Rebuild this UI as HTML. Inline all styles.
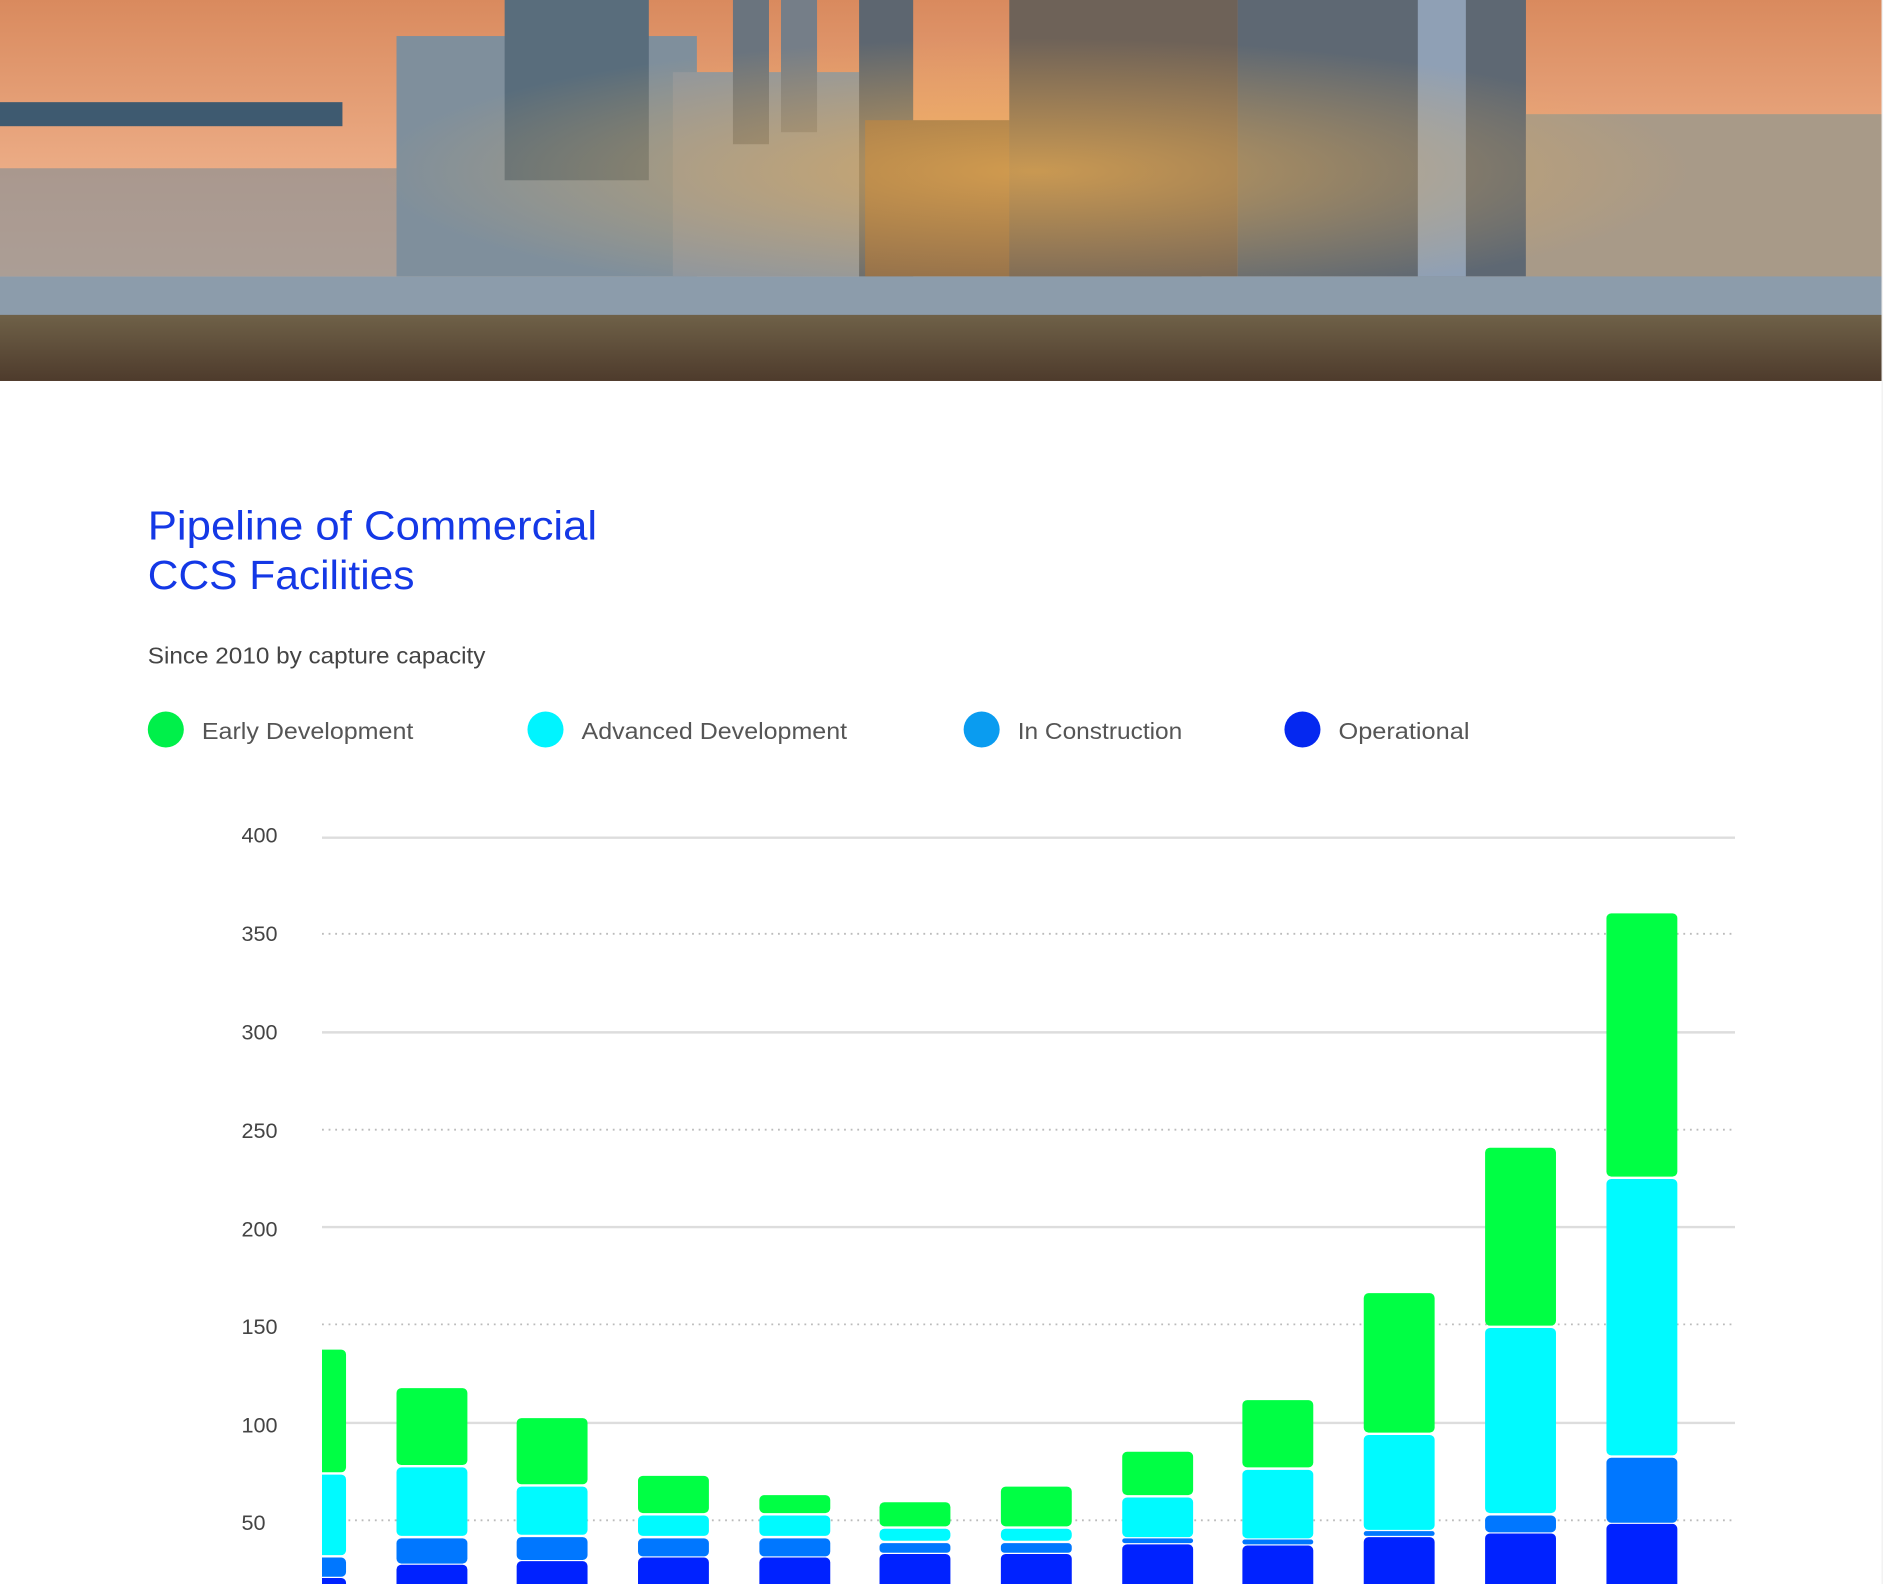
<!DOCTYPE html>
<html><head><meta charset="utf-8"><style>
html,body{margin:0;padding:0;background:#fff;}
svg{display:block;}
text{font-family:"Liberation Sans",sans-serif;}
</style></head><body>
<svg width="1884" height="1584" viewBox="0 0 1568 1318" preserveAspectRatio="none" xmlns="http://www.w3.org/2000/svg">
<defs>
<linearGradient id="sky" x1="0" y1="0" x2="0" y2="1">
<stop offset="0" stop-color="#d98a5e"/><stop offset="0.5" stop-color="#eeb08a"/><stop offset="1" stop-color="#f3c9a8"/></linearGradient>
<linearGradient id="grass" x1="0" y1="0" x2="0" y2="1">
<stop offset="0" stop-color="#6f6148"/><stop offset="1" stop-color="#4e3b2c"/></linearGradient>
<radialGradient id="glow" cx="0.55" cy="0.45" r="0.35"><stop offset="0" stop-color="#f0b050" stop-opacity="0.7"/><stop offset="1" stop-color="#f0b050" stop-opacity="0"/></radialGradient>
</defs>
<rect width="1568" height="1318" fill="#fff"/>
<rect x="0" y="0" width="1566" height="317" fill="url(#sky)"/>
<rect x="0" y="85" width="285" height="20" fill="#3e5a70"/>
<rect x="0" y="140" width="330" height="90" fill="#7d8a95" opacity="0.6"/>
<rect x="330" y="30" width="250" height="200" fill="#7f8f9c"/>
<rect x="420" y="0" width="120" height="150" fill="#596d7c"/>
<rect x="560" y="60" width="160" height="170" fill="#8d96a0"/>
<rect x="610" y="0" width="30" height="120" fill="#6a747e"/>
<rect x="650" y="0" width="30" height="110" fill="#757e88"/>
<rect x="715" y="0" width="45" height="230" fill="#5d6670"/>
<rect x="720" y="100" width="280" height="130" fill="#8a6a4a"/>
<rect x="840" y="0" width="190" height="230" fill="#6e6258"/>
<rect x="1030" y="0" width="240" height="230" fill="#5e6873"/>
<rect x="1180" y="0" width="40" height="230" fill="#8fa0b5"/>
<rect x="1270" y="95" width="296" height="140" fill="#a89a88"/>
<rect x="0" y="0" width="1566" height="317" fill="url(#glow)"/>
<rect x="0" y="230" width="1566" height="38" fill="#8c9cab"/>
<rect x="0" y="262" width="1566" height="55" fill="url(#grass)"/>
<text x="123" y="449" font-size="34" fill="#1438e6" textLength="374" lengthAdjust="spacingAndGlyphs">Pipeline of Commercial</text>
<text x="123" y="490" font-size="34" fill="#1438e6" textLength="222" lengthAdjust="spacingAndGlyphs">CCS Facilities</text>
<text x="123" y="552" font-size="19" fill="#444" textLength="281" lengthAdjust="spacingAndGlyphs">Since 2010 by capture capacity</text>
<circle cx="138" cy="607" r="15" fill="#00f04a"/><text x="168" y="615" font-size="19" fill="#555" textLength="176" lengthAdjust="spacingAndGlyphs">Early Development</text>
<circle cx="454" cy="607" r="15" fill="#00f4ff"/><text x="484" y="615" font-size="19" fill="#555" textLength="221" lengthAdjust="spacingAndGlyphs">Advanced Development</text>
<circle cx="817" cy="607" r="15" fill="#0a9cf0"/><text x="847" y="615" font-size="19" fill="#555" textLength="137" lengthAdjust="spacingAndGlyphs">In Construction</text>
<circle cx="1084" cy="607" r="15" fill="#0528f0"/><text x="1114" y="615" font-size="19" fill="#555" textLength="109" lengthAdjust="spacingAndGlyphs">Operational</text>
<g font-size="18" fill="#444">
<text x="201" y="701">400</text><text x="201" y="783">350</text><text x="201" y="865">300</text><text x="201" y="947">250</text>
<text x="201" y="1029">200</text><text x="201" y="1110">150</text><text x="201" y="1192">100</text><text x="201" y="1273">50</text>
</g>
<g stroke="#ddd" stroke-width="2">
<line x1="268" y1="697" x2="1444" y2="697"/><line x1="268" y1="859" x2="1444" y2="859"/>
<line x1="268" y1="1021" x2="1444" y2="1021"/><line x1="268" y1="1184" x2="1444" y2="1184"/>
</g>
<g stroke="#bbb" stroke-width="1.5" stroke-dasharray="1.5 4">
<line x1="268" y1="777" x2="1444" y2="777"/><line x1="268" y1="940" x2="1444" y2="940"/>
<line x1="268" y1="1102" x2="1444" y2="1102"/><line x1="268" y1="1265" x2="1444" y2="1265"/>
</g>
<clipPath id="c"><rect x="268" y="0" width="1300" height="1318"/></clipPath>
<g clip-path="url(#c)">
<g fill="#00ff44">
<rect x="229" y="1123" width="59" height="102" rx="4"/><rect x="330" y="1155" width="59" height="64" rx="4"/>
<rect x="430" y="1180" width="59" height="55" rx="4"/><rect x="531" y="1228" width="59" height="31" rx="4"/>
<rect x="632" y="1244" width="59" height="15" rx="4"/><rect x="732" y="1250" width="59" height="20" rx="4"/>
<rect x="833" y="1237" width="59" height="33" rx="4"/><rect x="934" y="1208" width="59" height="36" rx="4"/>
<rect x="1034" y="1165" width="59" height="56" rx="4"/><rect x="1135" y="1076" width="59" height="116" rx="4"/>
<rect x="1236" y="955" width="59" height="148" rx="4"/><rect x="1337" y="760" width="59" height="219" rx="4"/>
</g>
<g fill="#00faff">
<rect x="229" y="1227" width="59" height="67" rx="4"/><rect x="330" y="1221" width="59" height="57" rx="4"/>
<rect x="430" y="1237" width="59" height="40" rx="4"/><rect x="531" y="1261" width="59" height="17" rx="4"/>
<rect x="632" y="1261" width="59" height="17" rx="4"/><rect x="732" y="1272" width="59" height="10" rx="4"/>
<rect x="833" y="1272" width="59" height="10" rx="4"/><rect x="934" y="1246" width="59" height="33" rx="4"/>
<rect x="1034" y="1223" width="59" height="57" rx="4"/><rect x="1135" y="1194" width="59" height="79" rx="4"/>
<rect x="1236" y="1105" width="59" height="154" rx="4"/><rect x="1337" y="981" width="59" height="230" rx="4"/>
</g>
<g fill="#0077ff">
<rect x="229" y="1296" width="59" height="16" rx="4"/><rect x="330" y="1280" width="59" height="21" rx="4"/>
<rect x="430" y="1279" width="59" height="19" rx="4"/><rect x="531" y="1280" width="59" height="15" rx="4"/>
<rect x="632" y="1280" width="59" height="15" rx="4"/><rect x="732" y="1284" width="59" height="8" rx="3"/>
<rect x="833" y="1284" width="59" height="8" rx="3"/><rect x="934" y="1280" width="59" height="4" rx="2"/>
<rect x="1034" y="1281" width="59" height="4" rx="2"/><rect x="1135" y="1274" width="59" height="4" rx="2"/>
<rect x="1236" y="1261" width="59" height="14" rx="4"/><rect x="1337" y="1213" width="59" height="54" rx="4"/>
</g>
<g fill="#0022ff">
<rect x="229" y="1313" width="59" height="20" rx="4"/><rect x="330" y="1302" width="59" height="30" rx="4"/>
<rect x="430" y="1299" width="59" height="30" rx="4"/><rect x="531" y="1296" width="59" height="30" rx="4"/>
<rect x="632" y="1296" width="59" height="30" rx="4"/><rect x="732" y="1293" width="59" height="30" rx="4"/>
<rect x="833" y="1293" width="59" height="30" rx="4"/><rect x="934" y="1285" width="59" height="40" rx="4"/>
<rect x="1034" y="1286" width="59" height="40" rx="4"/><rect x="1135" y="1279" width="59" height="45" rx="4"/>
<rect x="1236" y="1276" width="59" height="50" rx="4"/><rect x="1337" y="1268" width="59" height="60" rx="4"/>
</g>
</g>
<line x1="1566.5" y1="0" x2="1566.5" y2="1318" stroke="#eee" stroke-width="1"/>
</svg>
</body></html>
